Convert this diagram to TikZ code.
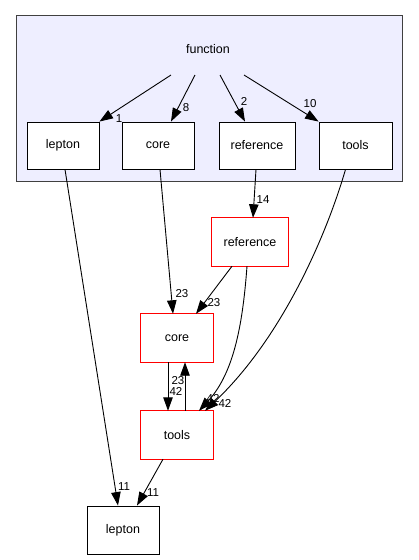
\documentclass[tikz,border=0pt]{standalone}
\usepackage{fontspec}
\setmainfont{Liberation Sans}
\usetikzlibrary{arrows.meta}
\definecolor{boxred}{RGB}{255,0,0}
\definecolor{clusterfill}{RGB}{238,238,255}
\definecolor{clusterline}{RGB}{64,64,64}
\begin{document}
\begin{tikzpicture}[x=1pt,y=-1pt,
  dbox/.style={draw=black,line width=0.9pt,fill=white,minimum width=72pt,minimum height=47pt,inner sep=0pt,font=\fontsize{12.5}{14}\selectfont},
  rbox/.style={draw=none,fill=white,minimum width=72pt,minimum height=48pt,inner sep=0pt,font=\fontsize{12.5}{14}\selectfont},
  redframe/.style={draw=boxred,line width=0.9pt},
  dep/.style={line width=0.9pt,draw=black,-{Triangle[length=13.5pt,width=9.5pt]}},
  lbl/.style={font=\fontsize{11.5}{13}\selectfont,inner sep=0pt}]
\useasboundingbox (0,0) rectangle (419,560);
\draw[fill=clusterfill,draw=clusterline,line width=0.9pt] (16,15) rectangle (402,181);
\node[font=\fontsize{12.5}{14}\selectfont] (fn) at (208,49) {function};
\coordinate (f1) at (171,75);
\coordinate (f2) at (195,75);
\coordinate (f3) at (220,75);
\coordinate (f4) at (244,75);
\node[dbox] (ilep) at (63,145.5) {lepton};
\node[dbox] (icore) at (158,145.5) {core};
\node[dbox,minimum width=76pt] (iref) at (257,145.5) {reference};
\node[dbox,minimum width=73pt] (itools) at (355.5,145.5) {tools};
\node[rbox,minimum width=76pt] (oref) at (250,242) {reference};
\node[rbox] (ocore) at (177,338) {core};
\node[rbox] (otl) at (177,435) {tools};
\node[dbox,minimum height=48pt] (olep) at (123,530) {lepton};
\draw[redframe] (oref.south west) rectangle (oref.north east);
\draw[redframe] (ocore.south west) rectangle (ocore.north east);
\draw[redframe] (otl.south west) rectangle (otl.north east);
% function edges
\draw[dep] (f1) -- (ilep.north east);
\draw[dep] (f2) -- ([xshift=13pt]icore.north);
\draw[dep] (f3) -- ([xshift=-12pt]iref.north);
\draw[dep] (f4) -- (itools.north west);
\node[lbl] at (119,119) {1};
\node[lbl] at (186,108) {8};
\node[lbl] at (244,101) {2};
\node[lbl] at (310,104) {10};
% outer edges
\draw[dep] ([xshift=2pt]ilep.south) -- ([xshift=-5pt]olep.north);
\node[lbl] at (124,487) {11};
\draw[dep] ([xshift=2pt]icore.south) -- ([xshift=-4pt]ocore.north);
\node[lbl] at (182,294) {23};
\draw[dep] ([xshift=-1pt]iref.south) -- ([xshift=3pt]oref.north);
\node[lbl] at (263,200) {14};
\draw[dep] ([xshift=-10pt]itools.south) .. controls (325,240) and (280,340) .. ([xshift=28pt]otl.north);
\node[lbl] at (225,403) {42};
\draw[dep] ([xshift=-18pt]oref.south) -- ([xshift=19pt]ocore.north);
\node[lbl] at (214,303) {23};
\draw[dep] ([xshift=-3pt]oref.south) .. controls (243,320) and (235,372) .. ([xshift=22pt]otl.north);
\node[lbl] at (213,398) {42};
\draw[dep] ([xshift=-9pt]ocore.south) -- ([xshift=-9pt]otl.north);
\node[lbl] at (176,391) {42};
\draw[dep] ([xshift=8pt]otl.north) -- ([xshift=8pt]ocore.south);
\node[lbl] at (178,381) {23};
\draw[dep] ([xshift=-14pt]otl.south) -- ([xshift=14pt]olep.north);
\node[lbl] at (153,493) {11};
\end{tikzpicture}
\end{document}
